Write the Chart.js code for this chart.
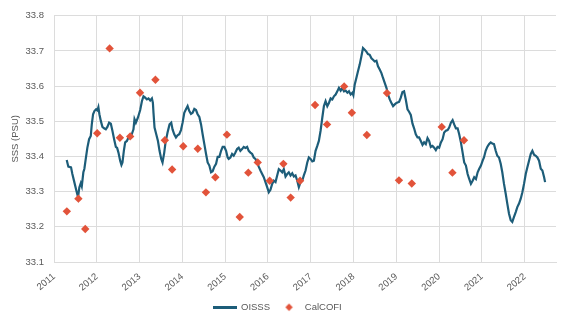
<!DOCTYPE html>
<html>
<head>
<meta charset="utf-8">
<script src="https://cdn.jsdelivr.net/npm/chart.js@4/dist/chart.umd.min.js"></script>
<style>
  html, body { margin: 0; padding: 0; background: #ffffff; }
  #wrap { width: 575px; height: 320px; }
</style>
</head>
<body>
<div id="wrap"><canvas id="chart" width="575" height="320"></canvas></div>
<script>
// Sea surface salinity near the CalCOFI region: satellite (OISSS) vs. ship samples (CalCOFI)

// OISSS time series (decimal year, PSU), ten points per row
const oisssYear = [
  2011.297,2011.335,2011.398,2011.429,2011.475,2011.522,2011.562,2011.592,2011.625,2011.649,
  2011.686,2011.710,2011.742,2011.780,2011.820,2011.859,2011.883,2011.913,2011.944,2011.984,
  2012.014,2012.037,2012.061,2012.094,2012.131,2012.171,2012.211,2012.248,2012.288,2012.328,
  2012.365,2012.405,2012.445,2012.475,2012.506,2012.546,2012.576,2012.600,2012.632,2012.663,
  2012.703,2012.740,2012.803,2012.857,2012.881,2012.913,2012.960,2013.014,2013.054,2013.091,
  2013.131,2013.171,2013.208,2013.248,2013.288,2013.311,2013.325,2013.349,2013.389,2013.429,
  2013.466,2013.506,2013.536,2013.576,2013.606,2013.653,2013.700,2013.740,2013.770,2013.810,
  2013.850,2013.887,2013.927,2013.967,2014.005,2014.044,2014.084,2014.122,2014.162,2014.201,
  2014.239,2014.279,2014.318,2014.356,2014.396,2014.436,2014.473,2014.513,2014.553,2014.590,
  2014.630,2014.670,2014.707,2014.747,2014.787,2014.824,2014.864,2014.904,2014.941,2014.981,
  2015.021,2015.058,2015.082,2015.122,2015.161,2015.199,2015.239,2015.278,2015.316,2015.355,
  2015.395,2015.433,2015.473,2015.513,2015.550,2015.590,2015.630,2015.667,2015.707,2015.747,
  2015.784,2015.824,2015.864,2015.902,2015.941,2015.981,2016.019,2016.058,2016.098,2016.136,
  2016.176,2016.215,2016.253,2016.293,2016.332,2016.370,2016.410,2016.450,2016.487,2016.527,
  2016.567,2016.604,2016.644,2016.684,2016.721,2016.761,2016.801,2016.838,2016.878,2016.918,
  2016.955,2016.995,2017.035,2017.073,2017.112,2017.152,2017.189,2017.229,2017.269,2017.307,
  2017.346,2017.386,2017.424,2017.464,2017.503,2017.541,2017.581,2017.620,2017.658,2017.698,
  2017.738,2017.775,2017.815,2017.855,2017.892,2017.932,2017.972,2017.995,2018.026,2018.065,
  2018.103,2018.143,2018.182,2018.220,2018.260,2018.299,2018.337,2018.377,2018.417,2018.454,
  2018.494,2018.534,2018.571,2018.611,2018.651,2018.688,2018.728,2018.768,2018.806,2018.845,
  2018.885,2018.923,2018.962,2019.002,2019.040,2019.063,2019.103,2019.142,2019.180,2019.220,
  2019.260,2019.297,2019.337,2019.377,2019.414,2019.454,2019.494,2019.531,2019.571,2019.611,
  2019.648,2019.688,2019.728,2019.766,2019.805,2019.845,2019.883,2019.922,2019.962,2020.000,
  2020.040,2020.080,2020.117,2020.157,2020.197,2020.234,2020.274,2020.314,2020.351,2020.391,
  2020.431,2020.468,2020.508,2020.548,2020.585,2020.625,2020.665,2020.702,2020.742,2020.782,
  2020.819,2020.859,2020.899,2020.936,2020.976,2021.016,2021.047,2021.087,2021.124,2021.164,
  2021.204,2021.241,2021.281,2021.321,2021.358,2021.398,2021.438,2021.475,2021.515,2021.555,
  2021.592,2021.632,2021.672,2021.709,2021.749,2021.789,2021.826,2021.866,2021.906,2021.944,
  2021.983,2022.023,2022.061,2022.100,2022.140,2022.178,2022.217,2022.257,2022.295,2022.334,
  2022.374,2022.412,2022.452,2022.475
];
const oisssSss = [
  33.390,33.371,33.369,33.350,33.327,33.303,33.284,33.312,33.324,33.315,
  33.355,33.365,33.393,33.425,33.449,33.458,33.491,33.520,33.529,33.534,
  33.531,33.540,33.520,33.501,33.484,33.480,33.477,33.484,33.496,33.493,
  33.473,33.449,33.427,33.424,33.411,33.388,33.376,33.383,33.416,33.440,
  33.444,33.454,33.458,33.477,33.506,33.496,33.510,33.532,33.557,33.571,
  33.567,33.562,33.565,33.559,33.565,33.552,33.524,33.482,33.463,33.444,
  33.416,33.393,33.383,33.411,33.440,33.468,33.491,33.496,33.477,33.463,
  33.454,33.460,33.463,33.475,33.496,33.524,33.534,33.543,33.529,33.521,
  33.524,33.535,33.532,33.520,33.512,33.491,33.463,33.435,33.407,33.383,
  33.374,33.355,33.358,33.371,33.379,33.399,33.399,33.416,33.427,33.427,
  33.416,33.397,33.393,33.397,33.407,33.402,33.411,33.421,33.425,33.416,
  33.421,33.427,33.424,33.427,33.416,33.411,33.407,33.397,33.393,33.383,
  33.371,33.360,33.350,33.341,33.327,33.313,33.298,33.305,33.322,33.331,
  33.327,33.346,33.364,33.360,33.355,33.364,33.343,33.350,33.355,33.346,
  33.352,33.343,33.346,33.331,33.313,33.327,33.331,33.346,33.360,33.383,
  33.397,33.393,33.386,33.388,33.416,33.430,33.444,33.473,33.510,33.543,
  33.557,33.543,33.552,33.565,33.562,33.571,33.576,33.585,33.595,33.587,
  33.595,33.585,33.587,33.581,33.585,33.576,33.581,33.574,33.604,33.623,
  33.642,33.661,33.684,33.708,33.703,33.698,33.691,33.689,33.679,33.675,
  33.670,33.672,33.656,33.647,33.637,33.623,33.609,33.595,33.576,33.562,
  33.552,33.543,33.548,33.552,33.554,33.555,33.567,33.583,33.585,33.562,
  33.534,33.527,33.518,33.493,33.480,33.463,33.454,33.454,33.444,33.433,
  33.440,33.435,33.452,33.444,33.427,33.430,33.425,33.418,33.427,33.425,
  33.440,33.449,33.468,33.473,33.475,33.482,33.496,33.503,33.491,33.480,
  33.480,33.463,33.440,33.411,33.383,33.374,33.350,33.336,33.322,33.331,
  33.341,33.336,33.355,33.365,33.374,33.388,33.397,33.416,33.427,33.435,
  33.440,33.437,33.435,33.416,33.402,33.397,33.379,33.355,33.322,33.294,
  33.266,33.237,33.219,33.214,33.228,33.242,33.256,33.266,33.280,33.298,
  33.322,33.350,33.369,33.388,33.407,33.416,33.405,33.402,33.397,33.388,
  33.365,33.360,33.341,33.327
];

// CalCOFI cruise means (decimal year, PSU)
const calcofiYear = [
  2011.30,2011.57,2011.73,2012.01,2012.30,2012.54,2012.78,2013.01,2013.37,2013.59,
  2013.76,2014.02,2014.36,2014.55,2014.77,2015.04,2015.34,2015.54,2015.76,2016.04,
  2016.36,2016.53,2016.75,2017.10,2017.38,2017.78,2017.96,2018.31,2018.78,2019.06,
  2019.36,2020.06,2020.31,2020.58
];
const calcofiSss = [
  33.244,33.280,33.194,33.466,33.707,33.453,33.457,33.581,33.618,33.446,
  33.363,33.429,33.422,33.298,33.341,33.462,33.228,33.354,33.383,33.331,
  33.379,33.283,33.331,33.546,33.491,33.599,33.524,33.461,33.580,33.332,
  33.323,33.484,33.354,33.446
];

// Axis ticks
const yearTicks = [2011,2012,2013,2014,2015,2016,2017,2018,2019,2020,2021,2022];
const sssTicks = [33.1,33.2,33.3,33.4,33.5,33.6,33.7,33.8];

const LINE_COLOR = '#1d5d79';
const DOT_COLOR = '#e2533a';
const TEXT_COLOR = '#595959';
const GRID_COLOR = '#dcdcdc';
const FONT = "'Liberation Sans', Arial, sans-serif";

const pairs = (xs, ys) => xs.map((x, i) => ({ x: x, y: ys[i] }));

// Small legend symbols: a line segment and a diamond
function lineSymbol() {
  const c = document.createElement('canvas');
  c.width = 24; c.height = 3;
  const g = c.getContext('2d');
  g.fillStyle = LINE_COLOR;
  g.fillRect(0, 0, 24, 3);
  return c;
}
function diamondSymbol() {
  const c = document.createElement('canvas');
  c.width = 9; c.height = 9;
  const g = c.getContext('2d');
  g.fillStyle = DOT_COLOR;
  g.beginPath();
  g.moveTo(4.5, 0.8); g.lineTo(8.2, 4.5); g.lineTo(4.5, 8.2); g.lineTo(0.8, 4.5);
  g.closePath(); g.fill();
  return c;
}
const legendLine = lineSymbol();
const legendDiamond = diamondSymbol();

new Chart(document.getElementById('chart'), {
  type: 'scatter',
  data: {
    datasets: [
      {
        label: 'OISSS',
        data: pairs(oisssYear, oisssSss),
        showLine: true,
        borderColor: LINE_COLOR,
        borderWidth: 2.2,
        pointRadius: 0,
        tension: 0,
        order: 1
      },
      {
        label: 'CalCOFI',
        data: pairs(calcofiYear, calcofiSss),
        showLine: false,
        pointStyle: 'rectRot',
        pointRadius: 4.2,
        pointBackgroundColor: DOT_COLOR,
        pointBorderColor: DOT_COLOR,
        pointBorderWidth: 0,
        order: 0
      }
    ]
  },
  options: {
    responsive: false,
    animation: false,
    devicePixelRatio: 1,
    layout: { padding: { top: 14, right: 19, bottom: -2, left: 0 } },
    scales: {
      x: {
        type: 'linear',
        min: 2011,
        max: 2022.73,
        afterBuildTicks: (s) => { s.ticks = yearTicks.map(v => ({ value: v })); },
        afterFit: (s) => { s.height = 32.5; },
        grid: { color: GRID_COLOR, lineWidth: 1, drawTicks: false },
        border: { color: GRID_COLOR, width: 1 },
        ticks: {
          color: TEXT_COLOR,
          font: { family: FONT, size: 9.5 },
          minRotation: 40,
          maxRotation: 40,
          padding: 9,
          autoSkip: false,
          callback: (v) => String(v)
        }
      },
      y: {
        type: 'linear',
        min: 33.1,
        max: 33.8,
        afterBuildTicks: (s) => { s.ticks = sssTicks.map(v => ({ value: v })); },
        afterFit: (s) => { s.width = 54; },
        grid: { color: GRID_COLOR, lineWidth: 1, drawTicks: false },
        border: { color: GRID_COLOR, width: 1 },
        ticks: {
          color: TEXT_COLOR,
          font: { family: FONT, size: 9.5 },
          padding: 10,
          callback: (v) => Number(v).toFixed(1)
        },
        title: {
          display: true,
          text: 'SSS (PSU)',
          color: TEXT_COLOR,
          font: { family: FONT, size: 9.5 },
          padding: { top: 10, bottom: 0 }
        }
      }
    },
    plugins: {
      tooltip: { enabled: false },
      legend: {
        position: 'bottom',
        labels: {
          usePointStyle: true,
          pointStyleWidth: 22,
          padding: 8,
          color: TEXT_COLOR,
          font: { family: FONT, size: 9.5 },
          generateLabels: () => [
            { text: 'OISSS', pointStyle: legendLine, datasetIndex: 0, fontColor: TEXT_COLOR, lineWidth: 0, strokeStyle: 'transparent', fillStyle: LINE_COLOR },
            { text: 'CalCOFI', pointStyle: legendDiamond, datasetIndex: 1, fontColor: TEXT_COLOR, lineWidth: 0, strokeStyle: 'transparent', fillStyle: DOT_COLOR }
          ]
        }
      }
    }
  }
});
</script>
</body>
</html>
